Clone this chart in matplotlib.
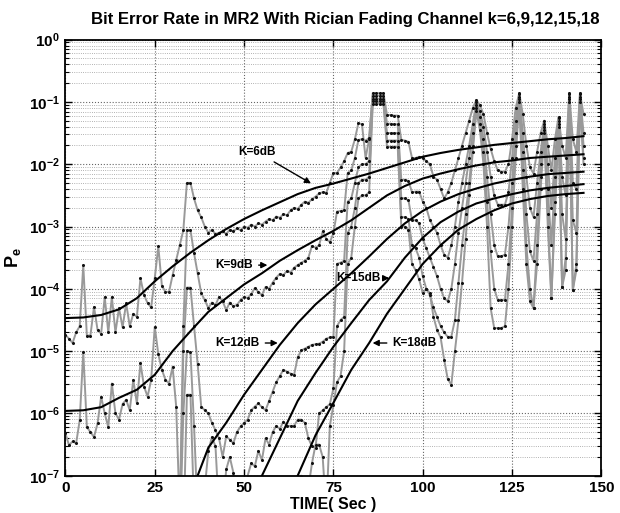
import math
import matplotlib
matplotlib.use("Agg")
import matplotlib.pyplot as plt
from matplotlib.ticker import FixedLocator, FuncFormatter, NullFormatter

plt.rcParams['font.family'] = ['Liberation Sans', 'DejaVu Sans']
plt.rcParams['mathtext.fontset'] = 'custom'
plt.rcParams['mathtext.rm'] = 'Liberation Sans'
plt.rcParams['mathtext.bf'] = 'Liberation Sans:bold'

# measured (noisy) BER, log10 values, one sample per second
time_s = list(range(146))

meas_k6 = [
    -4.74, -4.80, -4.87, -4.70, -4.60, -3.62, -4.75, -4.75, -4.29, -4.66,
    -4.72, -4.13, -4.70, -4.13, -4.70, -4.31, -4.62, -4.23, -4.60, -4.40,
    -4.45, -3.83, -4.10, -4.23, -4.30, -3.83, -3.32, -3.95, -4.05, -4.05,
    -3.78, -3.54, -3.30, -3.06, -2.30, -2.30, -2.55, -2.74, -2.85, -3.00,
    -3.10, -3.05, -3.12, -3.10, -3.08, -3.12, -3.05, -3.08, -3.03, -3.06,
    -3.00, -3.02, -2.97, -3.00, -2.95, -2.97, -2.92, -2.88, -2.90, -2.84,
    -2.86, -2.80, -2.82, -2.74, -2.70, -2.72, -2.65, -2.60, -2.62, -2.56,
    -2.52, -2.47, -2.45, -2.46, -2.30, -2.14, -2.14, -2.05, -1.95, -1.82,
    -1.80, -1.60, -1.34, -1.36, -1.90, -1.60, -0.86, -0.86, -0.86, -0.86,
    -1.21, -1.21, -1.22, -1.22, -1.61, -1.62, -1.64, -1.90, -1.90, -1.88,
    -1.90, -1.95, -2.00, -2.20, -2.25, -2.40, -2.55, -2.45, -2.30, -2.10,
    -1.90, -1.70, -1.50, -1.30, -1.10, -0.97, -1.05, -1.20, -1.50, -1.75,
    -1.95, -2.10, -2.12, -2.12, -2.00, -1.60, -1.10, -0.86, -1.20, -1.70,
    -2.05, -2.15, -1.80, -1.50, -1.30, -1.70, -2.10, -1.60, -1.24, -1.70,
    -1.90, -0.86, -1.60, -1.80, -0.86, -1.20]

meas_k9 = [
    -6.32, -6.51, -6.45, -6.48, -6.11, -5.01, -6.22, -6.30, -6.38, -6.16,
    -5.73, -6.00, -6.22, -5.52, -6.00, -6.10, -5.85, -5.78, -5.95, -5.46,
    -5.84, -5.19, -5.57, -5.73, -5.46, -4.61, -5.05, -5.30, -5.46, -5.52,
    -5.25, -5.89, -7.60, -4.60, -3.06, -3.06, -3.43, -3.75, -4.07, -4.18,
    -4.31, -4.22, -4.26, -4.13, -4.20, -4.34, -4.22, -4.28, -4.26, -4.18,
    -4.13, -4.15, -4.08, -3.99, -4.05, -4.10, -3.97, -4.00, -3.90, -3.82,
    -3.76, -3.78, -3.71, -3.74, -3.66, -3.62, -3.58, -3.55, -3.50, -3.31,
    -3.34, -3.30, -3.08, -3.20, -3.25, -3.11, -2.76, -2.75, -2.74, -2.14,
    -2.10, -1.90, -1.61, -1.60, -1.62, -1.58, -0.90, -0.90, -0.90, -0.90,
    -1.35, -1.35, -1.36, -1.36, -2.25, -2.25, -2.27, -2.45, -2.44, -2.44,
    -2.60, -2.70, -2.90, -3.00, -3.10, -3.30, -3.45, -3.50, -3.30, -3.00,
    -2.60, -2.30, -2.00, -1.70, -1.35, -1.00, -1.15, -1.40, -1.80, -2.20,
    -2.50, -2.65, -2.65, -2.65, -2.45, -1.90, -1.30, -0.88, -1.50, -2.20,
    -2.70, -2.85, -2.30, -1.80, -1.36, -2.00, -2.70, -1.90, -1.26, -2.20,
    -2.50, -0.88, -2.30, -2.40, -0.88, -1.50]

meas_k12 = [
    -8.00, -8.00, -8.00, -8.00, -8.00, -8.00, -8.00, -8.00, -8.00, -8.00,
    -8.00, -8.00, -8.00, -8.00, -8.00, -8.00, -8.00, -8.00, -8.00, -8.00,
    -8.00, -8.00, -8.00, -8.00, -8.00, -8.00, -8.00, -8.00, -8.00, -8.00,
    -8.00, -8.00, -8.00, -5.00, -3.98, -3.98, -4.60, -5.20, -5.89, -5.95,
    -6.00, -6.15, -6.27, -6.40, -6.70, -6.37, -6.42, -6.48, -6.30, -6.21,
    -6.15, -6.10, -5.95, -5.89, -5.84, -5.90, -5.95, -5.80, -5.65, -5.50,
    -5.40, -5.30, -5.33, -5.36, -5.38, -5.10, -4.99, -4.96, -4.93, -4.90,
    -4.89, -4.88, -4.85, -4.80, -4.78, -4.77, -3.60, -3.58, -3.55, -2.60,
    -2.55, -2.30, -2.05, -2.00, -2.00, -1.95, -0.95, -0.95, -0.95, -0.95,
    -1.50, -1.50, -1.50, -1.50, -2.55, -2.55, -2.58, -2.90, -2.90, -2.95,
    -3.20, -3.35, -3.50, -3.65, -3.80, -4.00, -4.15, -4.20, -4.00, -3.60,
    -3.10, -2.70, -2.30, -1.90, -1.50, -1.05, -1.25, -1.60, -2.20, -2.80,
    -3.30, -3.48, -3.48, -3.45, -3.00, -2.30, -1.50, -0.92, -1.80, -2.80,
    -3.40, -3.55, -2.80, -2.00, -1.40, -2.40, -3.30, -2.20, -1.30, -2.80,
    -3.20, -0.92, -2.90, -3.10, -0.92, -1.70]

meas_k15 = [
    -8.00, -8.00, -8.00, -8.00, -8.00, -8.00, -8.00, -8.00, -8.00, -8.00,
    -8.00, -8.00, -8.00, -8.00, -8.00, -8.00, -8.00, -8.00, -8.00, -8.00,
    -8.00, -8.00, -8.00, -8.00, -8.00, -8.00, -8.00, -8.00, -8.00, -8.00,
    -8.00, -8.00, -8.00, -6.00, -5.00, -5.02, -6.20, -7.60, -7.60, -7.20,
    -6.60, -6.38, -6.53, -7.60, -7.60, -6.90, -6.70, -6.95, -7.60, -7.60,
    -7.60, -7.00, -6.80, -6.85, -6.60, -6.75, -6.40, -6.50, -6.30, -6.20,
    -6.25, -6.13, -6.20, -6.20, -6.20, -6.10, -6.10, -6.15, -6.40, -6.53,
    -6.55, -6.00, -5.95, -5.90, -5.85, -5.60, -4.60, -4.50, -4.45, -3.10,
    -3.00, -2.70, -2.30, -2.25, -2.25, -2.20, -0.99, -0.99, -0.99, -0.99,
    -1.62, -1.62, -1.62, -1.62, -2.85, -2.85, -2.88, -3.30, -3.35, -3.50,
    -3.80, -4.00, -4.10, -4.30, -4.45, -4.60, -4.70, -4.77, -4.77, -4.50,
    -3.90, -3.30, -2.80, -2.30, -1.70, -1.10, -1.35, -1.80, -2.60, -3.40,
    -4.00, -4.18, -4.18, -4.18, -3.60, -2.70, -1.70, -0.96, -2.10, -3.30,
    -4.00, -4.31, -3.30, -2.20, -1.45, -2.80, -4.15, -2.60, -1.35, -3.97,
    -3.50, -0.96, -4.02, -3.60, -0.96, -1.90]

meas_k18 = [
    -8.00, -8.00, -8.00, -8.00, -8.00, -8.00, -8.00, -8.00, -8.00, -8.00,
    -8.00, -8.00, -8.00, -8.00, -8.00, -8.00, -8.00, -8.00, -8.00, -8.00,
    -8.00, -8.00, -8.00, -8.00, -8.00, -8.00, -8.00, -8.00, -8.00, -8.00,
    -8.00, -8.00, -8.00, -8.00, -5.70, -5.70, -7.60, -8.00, -8.00, -8.00,
    -8.00, -8.00, -8.00, -8.00, -8.00, -8.00, -8.00, -8.00, -8.00, -8.00,
    -8.00, -8.00, -8.00, -8.00, -8.00, -8.00, -8.00, -8.00, -8.00, -8.00,
    -8.00, -8.00, -8.00, -8.00, -7.60, -7.30, -7.00, -7.60, -7.20, -6.80,
    -6.50, -6.50, -6.70, -7.60, -6.20, -5.87, -5.50, -5.40, -5.00, -3.60,
    -3.50, -3.00, -2.55, -2.50, -2.50, -2.45, -1.03, -1.03, -1.03, -1.03,
    -1.72, -1.72, -1.72, -1.72, -3.00, -3.00, -3.05, -3.60, -3.70, -3.85,
    -4.07, -4.00, -4.07, -4.45, -4.66, -4.78, -5.14, -5.45, -5.54, -5.00,
    -4.50, -3.90, -3.20, -2.50, -1.80, -1.15, -1.45, -2.00, -3.00, -4.31,
    -4.63, -4.63, -4.63, -4.60, -4.00, -3.00, -1.90, -1.00, -2.40, -3.60,
    -4.20, -4.31, -3.60, -2.40, -1.50, -3.00, -4.15, -2.80, -1.40, -3.97,
    -3.70, -1.00, -4.02, -3.70, -1.00, -2.00]

# theoretical (smooth) BER curves, log10 values
theory_t6 = [0, 5, 10, 15, 20, 25, 30, 35, 40, 45, 50, 55, 60, 65, 70, 75,
             80, 85, 90, 95, 100, 105, 110, 115, 120, 125, 130, 135, 140, 145]
theory_k6 = [-4.47, -4.46, -4.42, -4.33, -4.15, -3.88, -3.64, -3.42, -3.22,
             -3.04, -2.88, -2.74, -2.61, -2.48, -2.38, -2.31, -2.23, -2.15,
             -2.06, -1.97, -1.88, -1.82, -1.77, -1.73, -1.69, -1.66, -1.63,
             -1.60, -1.58, -1.55]
theory_t9 = theory_t6
theory_k9 = [-5.96, -5.95, -5.90, -5.75, -5.62, -5.38, -5.00, -4.68, -4.37,
             -4.15, -3.93, -3.75, -3.55, -3.38, -3.22, -3.07, -2.90, -2.70,
             -2.50, -2.35, -2.23, -2.15, -2.08, -2.02, -1.97, -1.94, -1.90,
             -1.88, -1.86, -1.84]
theory_t12 = [35, 40, 45, 50, 55, 60, 65, 70, 75, 80, 85, 90, 95, 100, 105,
              110, 115, 120, 125, 130, 135, 140, 145]
theory_k12 = [-7.30, -6.55, -6.15, -5.70, -5.30, -4.90, -4.55, -4.25, -4.00,
              -3.75, -3.48, -3.20, -2.95, -2.75, -2.60, -2.48, -2.39, -2.31,
              -2.25, -2.20, -2.16, -2.14, -2.12]
theory_t15 = [50, 55, 60, 65, 70, 75, 80, 85, 90, 95, 100, 105, 110, 115, 120,
              125, 130, 135, 140, 145]
theory_k15 = [-7.60, -7.00, -6.40, -5.80, -5.35, -4.93, -4.55, -4.18, -3.88,
              -3.50, -3.18, -2.93, -2.76, -2.63, -2.55, -2.48, -2.42, -2.38,
              -2.35, -2.32]
theory_t18 = [60, 65, 70, 75, 80, 85, 90, 95, 100, 105, 110, 115, 120, 125,
              130, 135, 140, 145]
theory_k18 = [-7.60, -7.00, -6.35, -5.83, -5.30, -4.87, -4.40, -4.00, -3.60,
              -3.30, -3.05, -2.88, -2.74, -2.63, -2.56, -2.51, -2.48, -2.46]

x_ticks = [0, 25, 50, 75, 100, 125, 150]
y_ticks = [1e-7, 1e-6, 1e-5, 1e-4, 1e-3, 1e-2, 1e-1, 1e0]


def to_lin(vals):
    return [10 ** v for v in vals]


fig = plt.figure(figsize=(6.2, 5.13), dpi=100)
ax = fig.add_axes([0.1055, 0.0727, 0.8645, 0.8501])

for meas in [meas_k6, meas_k9, meas_k12, meas_k15, meas_k18]:
    ax.plot(time_s, to_lin(meas), color='#999999', lw=1.4, zorder=2)
    ax.plot(time_s, to_lin(meas), ls='none', marker='.', ms=2.4,
            color='#111111', zorder=3)

for t, th in [(theory_t6, theory_k6), (theory_t9, theory_k9),
              (theory_t12, theory_k12), (theory_t15, theory_k15),
              (theory_t18, theory_k18)]:
    ax.plot(t, to_lin(th), color='black', lw=1.5, zorder=4)

ax.set_yscale('log')
ax.set_xlim(0, 150)
ax.set_ylim(1e-7, 1)
ax.xaxis.set_major_locator(FixedLocator(x_ticks))
ax.yaxis.set_major_locator(FixedLocator(y_ticks))
minor = [m * 10.0 ** e for e in range(-7, 0) for m in range(2, 10)]
ax.yaxis.set_minor_locator(FixedLocator(minor))
ax.yaxis.set_minor_formatter(NullFormatter())
ax.yaxis.set_major_formatter(
    FuncFormatter(lambda v, p: r'$\mathbf{10^{%d}}$' % round(math.log10(v))))

ax.tick_params(which='both', direction='in', top=True, right=True)
ax.tick_params(which='major', length=5, width=1, labelsize=11, pad=4)
ax.tick_params(which='minor', length=3, width=0.8)
for lab in ax.get_xticklabels():
    lab.set_fontweight('bold')
for s in ax.spines.values():
    s.set_linewidth(1.3)

ax.grid(True, which='major', ls=':', color='#666666', lw=0.8)
ax.grid(True, which='minor', axis='y', ls=':', color='#999999', lw=0.6)

ax.set_title('Bit Error Rate in MR2 With Rician Fading Channel k=6,9,12,15,18',
             fontsize=12.1, fontweight='bold', pad=11, x=0.522)
ax.set_xlabel('TIME( Sec )', fontsize=11.5, fontweight='bold', labelpad=1)
ax.set_ylabel(r'$\mathbf{P_e}$', fontsize=13)
ax.yaxis.set_label_coords(-0.08, 0.5)

arrow = dict(arrowstyle='-|>', color='black', lw=1.0, mutation_scale=9)
ax.annotate('K=6dB', xy=(69.4, 10 ** -2.33), xytext=(53.5, 10 ** -1.80),
            fontsize=8.5, fontweight='bold', ha='center', va='center',
            arrowprops=arrow, zorder=6)
ax.annotate('K=9dB', xy=(57.3, 10 ** -3.62), xytext=(42.0, 10 ** -3.62),
            fontsize=8.5, fontweight='bold', ha='left', va='center',
            arrowprops=arrow, zorder=6)
ax.annotate('K=12dB', xy=(60.2, 10 ** -4.87), xytext=(42.0, 10 ** -4.87),
            fontsize=8.5, fontweight='bold', ha='left', va='center',
            arrowprops=arrow, zorder=6)
ax.annotate('K=15dB', xy=(91.4, 10 ** -3.83), xytext=(75.8, 10 ** -3.83),
            fontsize=8.5, fontweight='bold', ha='left', va='center',
            arrowprops=arrow, zorder=6)
ax.annotate('K=18dB', xy=(85.2, 10 ** -4.87), xytext=(91.5, 10 ** -4.87),
            fontsize=8.5, fontweight='bold', ha='left', va='center',
            arrowprops=arrow, zorder=6)

fig.savefig('out.png', dpi=100)
